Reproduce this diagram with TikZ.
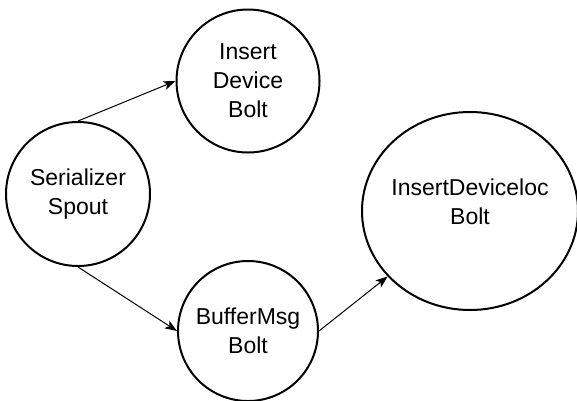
\documentclass[tikz,border=0pt]{standalone}
\usepackage{fontspec}
\setmainfont{Liberation Sans}
\usetikzlibrary{arrows.meta,shapes.geometric}
\def\lw{2pt}
\tikzset{
	bolt/.style={
		circle,
		draw=black,
		line width=\lw,
		align=center,
		inner sep=0pt,
		font=\fontsize{23}{29}\selectfont,
	},
	boltbig/.style={
		bolt,
		ellipse,
		minimum width=216pt,
		minimum height=198pt,
	},
	boltlabel/.style={
		align=center,
		inner sep=0pt,
		font=\fontsize{23}{29}\selectfont,
	},
	flow/.style={
		-{Stealth[length=12pt,width=9pt,inset=3pt]},
		line width=1pt,
	},
}
\begin{document}
\begin{tikzpicture}[x=1pt,y=-1pt]
	\useasboundingbox (0,0) rectangle (577,400);
	\node[bolt, minimum size=144pt] (spout) at (78,194) {Serializer\\Spout};
	\node[bolt, minimum size=143pt] (insert) at (248,81) {Insert\\Device\\Bolt};
	\node[bolt, minimum size=140pt] (buffer) at (248,331) {BufferMsg\\Bolt};
	\node[boltbig] (loc) at (470,211) {};
	\node[boltlabel] (loctext) at ([yshift=9pt]loc.center) {InsertDeviceloc\\Bolt};

	\draw[flow] (spout.north) -- (insert.west);
	\draw[flow] (spout.south) -- (buffer.west);
	\draw[flow] (buffer.east) -- (loc);
\end{tikzpicture}
\end{document}
